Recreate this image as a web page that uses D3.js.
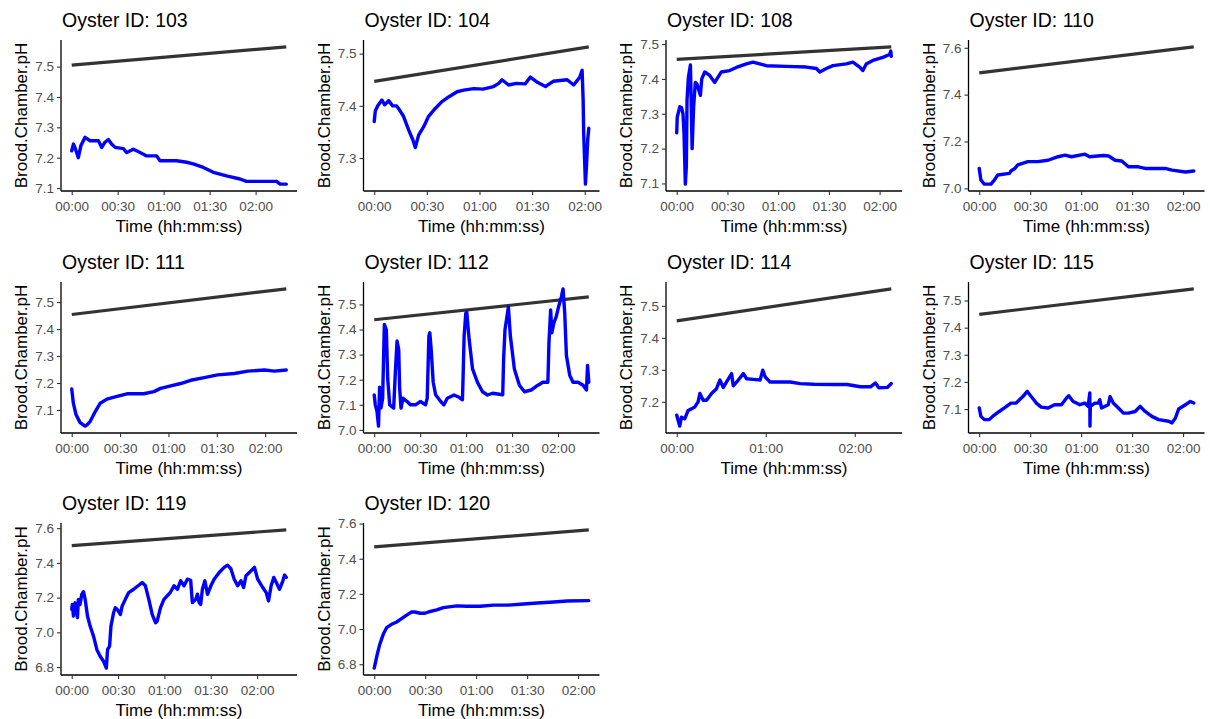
<!DOCTYPE html>
<html>
<head>
<meta charset="utf-8">
<script src="https://cdn.jsdelivr.net/npm/d3@7"></script>
<style>
  html, body { margin: 0; padding: 0; background: #fff; }
  svg { display: block; font-family: "Liberation Sans", Arial, sans-serif; }
</style>
</head>
<body>
<svg id="chart" width="1210" height="719"></svg>
<script>
// ---- Data (minutes since start, pH) ----
const oysterIds = ["103", "104", "108", "110", "111", "112", "114", "115", "119", "120"];
const durationMin = [140, 122.3, 126.9, 126.3, 133.1, 140.1, 144.6, 126.3, 138.9, 126.3];
const refStart = [7.505, 7.447, 7.456, 7.493, 7.454, 7.439, 7.453, 7.449, 7.50, 7.467];
const refEnd   = [7.565, 7.513, 7.492, 7.604, 7.549, 7.530, 7.553, 7.543, 7.59, 7.564];
const xTickStep = [30, 30, 30, 30, 30, 30, 60, 30, 30, 30];
const yTickStep = [0.1, 0.1, 0.1, 0.2, 0.1, 0.1, 0.1, 0.1, 0.2, 0.2];

const ph103 = [[0,7.223],[1.1,7.245],[2,7.235],[4.3,7.20],[6,7.24],[8.7,7.267],[12,7.256],[17.4,7.256],[19.6,7.234],[21.5,7.25],[23.9,7.26],[26,7.245],[28.3,7.234],[33.7,7.23],[35.9,7.217],[40.2,7.228],[44.6,7.217],[48.9,7.206],[55.4,7.206],[57.6,7.19],[68.5,7.19],[75,7.185],[79.3,7.18],[85.9,7.168],[92.4,7.152],[101,7.14],[109.8,7.13],[114,7.122],[133.7,7.122],[136,7.113],[140,7.113]];
const ph104 = [[0,7.37],[0.6,7.39],[2,7.40],[4.4,7.411],[6,7.402],[8.2,7.41],[10.5,7.40],[12.8,7.40],[14.8,7.39],[16.7,7.38],[19.6,7.354],[22,7.335],[23.4,7.32],[25.3,7.344],[28.2,7.36],[31,7.38],[34.8,7.395],[38.6,7.408],[42.4,7.417],[47.2,7.427],[51,7.43],[56.7,7.433],[62,7.432],[68,7.437],[71,7.443],[72.8,7.45],[76.6,7.44],[81,7.443],[86,7.442],[89,7.455],[93,7.445],[97.6,7.437],[102,7.447],[110,7.45],[113.7,7.44],[117.2,7.455],[118.5,7.468],[119.1,7.41],[119.4,7.347],[120.4,7.25],[121,7.285],[121.7,7.335],[122.3,7.357]];
const ph108 = [[0,7.245],[0.3,7.29],[1.8,7.32],[2.8,7.318],[3.7,7.30],[4.3,7.245],[5.1,7.098],[5.7,7.15],[6.1,7.34],[6.9,7.405],[8.1,7.44],[8.7,7.30],[9.1,7.20],[10,7.32],[11,7.39],[12,7.385],[14,7.353],[14.8,7.40],[16.6,7.42],[19.5,7.41],[22.5,7.39],[26.4,7.42],[31.3,7.424],[35.3,7.433],[41.2,7.443],[45.1,7.448],[49,7.443],[53,7.438],[64.8,7.436],[76.7,7.434],[82.6,7.43],[84.6,7.42],[88.5,7.43],[92.4,7.438],[100.3,7.443],[104.2,7.448],[108.2,7.434],[110.1,7.424],[112.1,7.443],[116,7.453],[121.9,7.462],[125.9,7.47],[126.6,7.48],[126.9,7.465]];
const ph110 = [[0,7.085],[1,7.035],[3,7.018],[6.9,7.018],[8.9,7.035],[10.9,7.057],[17.8,7.064],[18.8,7.075],[21,7.085],[22.7,7.10],[28.6,7.114],[34.5,7.114],[40.5,7.12],[46.4,7.135],[50.5,7.142],[54.3,7.135],[62.2,7.146],[65,7.135],[73,7.14],[76.2,7.138],[80,7.12],[83.9,7.117],[87.8,7.092],[93.7,7.092],[97.7,7.085],[109.5,7.085],[113.5,7.078],[121.4,7.07],[126.3,7.074]];
const ph111 = [[0,7.178],[1,7.125],[2.7,7.082],[5.2,7.053],[8.3,7.04],[9.5,7.045],[11.4,7.057],[14.6,7.094],[17.7,7.125],[21.8,7.14],[28.1,7.15],[34.3,7.16],[44.7,7.16],[51,7.168],[55.1,7.18],[61.4,7.189],[67.6,7.198],[73.8,7.21],[82.2,7.22],[90.5,7.23],[100.9,7.235],[109.2,7.244],[119.6,7.248],[125.8,7.244],[133.1,7.248]];
const ph112 = [[0,7.139],[0.7,7.10],[1.8,7.074],[2.8,7.015],[3.5,7.17],[4.4,7.087],[5.5,7.126],[6.6,7.42],[7.9,7.40],[8.8,7.204],[10.1,7.10],[12.7,7.087],[13.8,7.23],[14.9,7.354],[16,7.32],[16.6,7.165],[17.5,7.087],[18.8,7.126],[21.5,7.113],[23.6,7.10],[26.9,7.10],[30.2,7.113],[33.5,7.10],[34.6,7.126],[35.7,7.374],[36.3,7.387],[37.2,7.32],[38.5,7.19],[40.1,7.14],[43.4,7.113],[45.5,7.10],[47.7,7.126],[52.1,7.139],[55.4,7.13],[57.6,7.12],[58,7.204],[58.7,7.374],[59.8,7.465],[60.4,7.47],[62,7.36],[64.2,7.243],[67.4,7.19],[70.7,7.152],[74,7.139],[77.3,7.146],[83.9,7.14],[84.5,7.283],[85.4,7.40],[86.7,7.452],[87.6,7.49],[88.9,7.374],[91.5,7.243],[94.8,7.178],[98.1,7.152],[102.5,7.159],[106.9,7.178],[110.1,7.19],[113.4,7.19],[114.1,7.348],[115.2,7.478],[116,7.387],[117.3,7.426],[118.9,7.452],[120.4,7.491],[122.2,7.53],[123.3,7.562],[124.4,7.465],[125.5,7.296],[127.7,7.217],[129.8,7.19],[133.1,7.19],[136.4,7.178],[138.6,7.159],[139.3,7.257],[140.1,7.19]];
const ph114 = [[0,7.158],[2,7.124],[3.2,7.152],[5.4,7.147],[7.7,7.173],[9.9,7.178],[12.2,7.184],[14.4,7.20],[15.6,7.226],[17.8,7.205],[20.1,7.205],[23.5,7.226],[26.8,7.241],[29.1,7.268],[31.4,7.245],[33.6,7.262],[37,7.288],[38.1,7.25],[41.5,7.268],[44.9,7.288],[47.1,7.272],[51.7,7.27],[56.2,7.268],[58,7.299],[59.6,7.278],[62.9,7.262],[76.5,7.262],[83.2,7.257],[92.3,7.255],[105.8,7.254],[114.8,7.254],[123.8,7.247],[130.6,7.247],[134,7.259],[136.2,7.244],[141.9,7.245],[144.6,7.257]];
const ph115 = [[0,7.104],[1,7.073],[3,7.061],[5.9,7.061],[7.9,7.073],[11.8,7.091],[14.8,7.104],[18.7,7.122],[21.7,7.122],[23.7,7.134],[25.7,7.146],[28.2,7.165],[30.6,7.146],[33.6,7.122],[36.5,7.107],[40.5,7.104],[44.4,7.116],[48.4,7.116],[51.3,7.14],[52.7,7.149],[55.3,7.128],[57.2,7.122],[59.2,7.116],[62.2,7.122],[64.1,7.11],[65.1,7.159],[65.2,7.037],[65.4,7.11],[68.1,7.122],[70.1,7.122],[71,7.134],[72,7.104],[76,7.116],[77,7.146],[78.9,7.122],[81.9,7.104],[84.9,7.085],[87.8,7.085],[91.8,7.091],[94.7,7.11],[97.7,7.091],[101.6,7.073],[105.6,7.061],[111.5,7.055],[113.5,7.049],[115.5,7.067],[117.4,7.10],[121.4,7.116],[124.3,7.128],[126.3,7.122]];
const ph119 = [[0,7.132],[0.4,7.161],[1.1,7.094],[2.2,7.17],[3.7,7.085],[4.3,7.19],[5.4,7.16],[6.5,7.219],[7.6,7.234],[8.7,7.19],[10.2,7.094],[11.9,7.036],[14.1,6.978],[16.3,6.90],[18.4,6.862],[20.6,6.833],[22.4,6.794],[23.2,6.90],[24.5,6.92],[25.4,7.036],[27.1,7.113],[28.2,7.142],[29.7,7.13],[31.5,7.103],[32.6,7.15],[34.7,7.19],[36.9,7.229],[40.1,7.248],[43.4,7.271],[45.6,7.287],[47.7,7.268],[49.9,7.19],[52.1,7.103],[54.3,7.055],[55.3,7.065],[57.5,7.142],[59.7,7.19],[61.8,7.21],[64,7.232],[66.2,7.268],[68.4,7.248],[70.5,7.297],[72.7,7.268],[74.9,7.306],[77,7.30],[78.1,7.171],[80.3,7.19],[81.4,7.22],[82.5,7.171],[83.5,7.161],[84.6,7.248],[86.2,7.297],[87.9,7.219],[90.1,7.268],[92.2,7.306],[95.5,7.345],[98.7,7.374],[100.9,7.387],[103.1,7.365],[105.2,7.306],[107.4,7.268],[109.6,7.297],[111.3,7.258],[112.8,7.326],[115,7.345],[118.3,7.374],[120.4,7.306],[123.7,7.258],[125.9,7.229],[127.4,7.181],[129.1,7.268],[130.8,7.316],[132.3,7.29],[134.5,7.248],[136.7,7.297],[137.8,7.33],[138.9,7.316]];
const ph120 = [[0,6.778],[1.8,6.857],[3.3,6.914],[5.3,6.97],[7.3,7.008],[10.2,7.027],[13.2,7.04],[16.1,7.059],[19.1,7.079],[22,7.097],[24,7.097],[27,7.09],[29.9,7.09],[32.9,7.10],[36.8,7.109],[40.7,7.122],[48.6,7.132],[54.5,7.13],[62.4,7.13],[70.2,7.136],[78.1,7.136],[86,7.141],[93.8,7.147],[105.6,7.154],[113.5,7.16],[126.3,7.162]];

const phSeries = [ph103, ph104, ph108, ph110, ph111, ph112, ph114, ph115, ph119, ph120];

// ---- Layout ----
const colWidth = 302.5;
const plotLeftOff = 61, plotRightOff = 297;
const rowTop = [40, 282, 523];
const rowBottom = [191, 433, 675];

const svg = d3.select("#chart");

function fmtTime(m) {
  const h = Math.floor(m / 60), mm = Math.round(m % 60);
  return String(h).padStart(2, "0") + ":" + String(mm).padStart(2, "0");
}

oysterIds.forEach((id, i) => {
  const col = i % 4, row = Math.floor(i / 4);
  const x0 = col * colWidth + plotLeftOff, x1 = col * colWidth + plotRightOff;
  const y0 = rowTop[row], y1 = rowBottom[row];
  const data = phSeries[i];
  const T = durationMin[i];
  const refData = [[0, refStart[i]], [T, refEnd[i]]];

  const xr = T;
  const x = d3.scaleLinear().domain([-0.05 * xr, T + 0.05 * xr]).range([x0, x1]);
  const allY = data.map(d => d[1]).concat([refStart[i], refEnd[i]]);
  const ymin = d3.min(allY), ymax = d3.max(allY), yr = ymax - ymin;
  const y = d3.scaleLinear().domain([ymin - 0.05 * yr, ymax + 0.05 * yr]).range([y1, y0]);

  const g = svg.append("g");

  const xTicks = d3.range(0, T + 0.001, xTickStep[i]);
  const ys = yTickStep[i];
  const yTicks = d3.range(Math.ceil((ymin - 0.05 * yr) / ys - 1e-6), Math.floor((ymax + 0.05 * yr) / ys + 1e-6) + 1).map(k => +(k * ys).toFixed(2));

  // x axis
  const xAxis = d3.axisBottom(x).tickValues(xTicks).tickFormat(fmtTime).tickSize(4).tickPadding(6);
  const gx = g.append("g").attr("transform", `translate(0,${y1})`).call(xAxis);
  gx.select(".domain").attr("d", `M${x0},0H${x1}`).attr("stroke", "#000").attr("stroke-width", 1.3);
  gx.selectAll(".tick line").attr("stroke", "#333").attr("stroke-width", 1.1);
  gx.selectAll(".tick text").attr("fill", "#4d4d4d").style("font-size", "13.5px").style("font-family", "Liberation Sans, Arial, sans-serif");

  // y axis
  const yAxis = d3.axisLeft(y).tickValues(yTicks).tickFormat(d3.format(".1f")).tickSize(4).tickPadding(3);
  const gy = g.append("g").attr("transform", `translate(${x0},0)`).call(yAxis);
  gy.select(".domain").attr("d", `M0,${y0}V${y1}`).attr("stroke", "#000").attr("stroke-width", 1.3);
  gy.selectAll(".tick line").attr("stroke", "#333").attr("stroke-width", 1.1);
  gy.selectAll(".tick text").attr("fill", "#4d4d4d").style("font-size", "13.5px").style("font-family", "Liberation Sans, Arial, sans-serif");

  const line = d3.line().x(d => x(d[0])).y(d => y(d[1]));

  // reference line (black)
  g.append("path").datum(refData).attr("d", line)
    .attr("fill", "none").attr("stroke", "#333333").attr("stroke-width", 3.2);

  // brood chamber pH (blue)
  g.append("path").datum(data).attr("d", line)
    .attr("fill", "none").attr("stroke", "#0000ff").attr("stroke-width", 3.4)
    .attr("stroke-linejoin", "round").attr("stroke-linecap", "round");

  // title
  g.append("text").attr("x", x0 + 1).attr("y", y0 - 13)
    .style("font-size", "19.5px").attr("fill", "#000").text("Oyster ID: " + id);

  // axis titles
  g.append("text").attr("x", (x0 + x1) / 2).attr("y", y1 + 41)
    .attr("text-anchor", "middle").style("font-size", "17px").attr("fill", "#000")
    .text("Time (hh:mm:ss)");
  g.append("text")
    .attr("transform", `translate(${x0 - 34},${(y0 + y1) / 2}) rotate(-90)`)
    .attr("text-anchor", "middle").style("font-size", "17px").attr("fill", "#000")
    .text("Brood.Chamber.pH");
});
</script>
</body>
</html>
